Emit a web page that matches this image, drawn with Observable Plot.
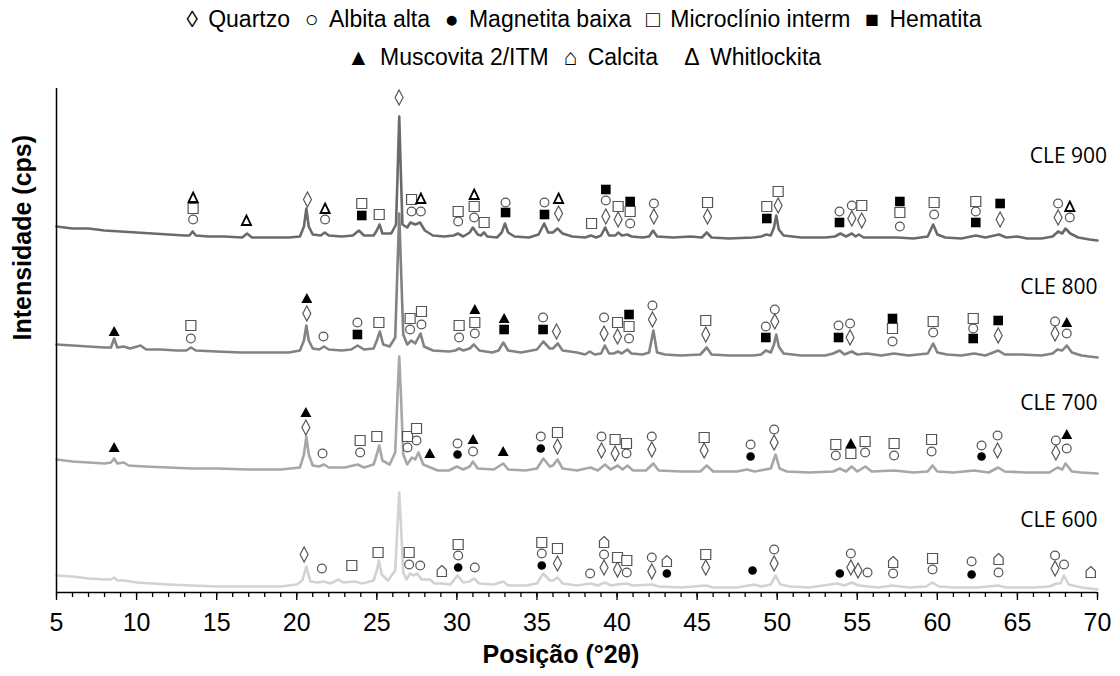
<!DOCTYPE html>
<html><head><meta charset="utf-8">
<script src="https://cdn.jsdelivr.net/npm/d3@7"></script>
<script src="https://cdn.jsdelivr.net/npm/@observablehq/plot@0.6"></script>
<style>
body{margin:0;background:#fff;width:1120px;height:676px;overflow:hidden}
#legend{height:80px;box-sizing:border-box;padding-left:48px;text-align:center;font-family:"Liberation Sans",Arial,sans-serif;font-size:23px;line-height:38px;color:#000;white-space:pre}
#legend .g{margin-right:0.45em}
#legend .it{margin:0 0.32em}
</style></head><body>
<div id="legend"></div>
<div id="chart"></div>
<script>
// ---- phases (legend) ----
const phaseKeys   = ["Q","A","G","M","H","U","C","W"];
const phaseGlyphs = ["◊","○","●","□","■","▲","⌂","Δ"];
const phaseNames  = ["Quartzo","Albita alta","Magnetita baixa","Microclínio interm","Hematita","Muscovita 2/ITM","Calcita","Whitlockita"];

// ---- samples ----
const samples = ["CLE 600","CLE 700","CLE 800","CLE 900"];
const labelX = [70, 70, 70, 70.6];
const labelLevels = [72, 189, 305, 436];

// ---- x ticks ----
const majorTicks = [5,10,15,20,25,30,35,40,45,50,55,60,65,70];

// ---- diffractograms [2θ, intensity (offset, arbitrary units)] ----
const cle900 = [[5,366],[6,364],[7,364],[8,362],[9,361],[10,360],[11,359],[12,358],[13,357],[13.3,357],[13.5,361],[13.7,357],[14.5,356],[15.5,356],[16.6,355],[16.9,359],[17.2,355],[18.5,355],[19.5,355],[20.2,356],[20.45,366],[20.6,384],[20.75,366],[21.0,358],[21.5,357],[21.75,360],[22.0,357],[22.8,356],[23.5,357],[23.88,362],[24.2,357],[24.8,357],[25.0,362],[25.17,368],[25.35,359],[25.9,359],[26.2,368],[26.3,420],[26.4,476],[26.5,420],[26.6,368],[26.9,365],[27.1,370],[27.4,368],[27.7,370],[28.0,362],[28.5,357],[29.2,356],[29.8,357],[30.06,359],[30.4,356],[30.8,360],[31.0,365],[31.3,358],[31.5,357],[31.7,360],[31.9,356],[32.5,355],[32.8,360],[33.0,369],[33.2,360],[33.6,356],[34.5,355],[35.1,358],[35.45,369],[35.7,360],[36.0,360],[36.28,364],[36.6,359],[37.2,356],[38.0,355],[38.37,357],[38.7,355],[39.0,357],[39.26,365],[39.5,357],[39.9,357],[40.07,360],[40.3,357],[40.65,358],[40.9,356],[41.6,355],[42.0,356],[42.25,362],[42.5,356],[43.5,355],[44.6,356],[45.3,355],[45.6,360],[45.9,355],[47,354],[48.5,355],[49.0,356],[49.33,358],[49.6,357],[49.8,365],[49.94,377],[50.1,363],[50.4,357],[51.5,355],[53,355],[53.6,356],[53.95,359],[54.3,356],[54.66,359],[54.9,356],[55.1,358],[55.4,355],[56.5,355],[57.5,355],[58.5,354],[59.4,356],[59.74,368],[60.0,358],[60.5,355],[61.5,354],[62.4,357],[63.0,355],[63.85,358],[64.3,355],[65.0,356],[65.6,354],[66.5,354],[67.2,356],[67.54,361],[67.8,359],[68.0,364],[68.3,359],[68.8,355],[69.5,353],[70,352]];
const cle800 = [[5,248],[6,247],[7,246],[8,245],[8.4,245],[8.6,254],[8.8,245],[9.2,246],[9.6,244],[10.25,247],[10.6,243],[11.5,243],[12.5,242],[13.1,242],[13.4,245],[13.7,242],[15,241],[16.5,240],[18,240],[19.5,240],[20.2,242],[20.45,252],[20.6,267],[20.75,252],[21.0,244],[21.4,243],[21.7,246],[22.0,243],[22.8,242],[23.4,243],[23.8,247],[24.2,243],[24.8,244],[25.0,252],[25.19,261],[25.4,248],[25.8,246],[26.15,255],[26.3,330],[26.4,379],[26.5,330],[26.65,258],[26.9,248],[27.15,252],[27.4,249],[27.73,259],[27.95,246],[28.5,242],[29.5,241],[29.9,242],[30.14,244],[30.4,242],[30.8,244],[31.06,248],[31.4,242],[32.2,240],[32.6,242],[32.9,250],[33.2,242],[34,240],[35.0,243],[35.4,251],[35.8,244],[36.0,244],[36.3,249],[36.6,242],[37.5,240],[38.0,238],[38.3,241],[38.6,238],[39.0,239],[39.24,247],[39.5,239],[39.8,239],[40.05,241],[40.3,239],[40.64,243],[40.9,239],[41.6,238],[42.0,240],[42.27,262],[42.5,240],[43,238],[44,237],[45.2,238],[45.6,245],[45.9,238],[47,237],[48.5,237],[49.0,238],[49.29,242],[49.6,240],[49.8,248],[49.94,258],[50.1,246],[50.4,239],[51.5,237],[53.0,237],[53.5,239],[53.9,242],[54.2,238],[54.65,241],[55,238],[55.6,239],[56.5,237],[57.3,239],[58.2,237],[59.4,239],[59.74,249],[60.0,240],[60.6,238],[61.5,237],[62.3,239],[63.0,237],[63.8,242],[64.2,238],[65.2,238],[66.5,237],[67.2,239],[67.5,243],[67.8,242],[68.08,247],[68.4,240],[69,237],[70,235]];
const cle700 = [[5,133],[6,131],[7,130],[8,129],[8.4,130],[8.6,134],[8.8,129],[9.2,130],[9.5,127],[10.5,126],[12,125],[13.5,124],[15,124],[17,123],[19,123],[20.2,125],[20.45,138],[20.6,156],[20.75,138],[21.0,127],[21.4,126],[21.7,128],[22.0,125],[23.0,125],[23.8,128],[24.2,125],[24.8,128],[25.0,138],[25.15,147],[25.35,132],[25.8,128],[26.15,140],[26.3,200],[26.4,236],[26.5,200],[26.65,138],[26.9,128],[27.2,135],[27.4,133],[27.6,140],[27.9,128],[28.35,125],[28.8,122],[29.5,122],[30.0,126],[30.4,123],[30.8,126],[31.0,131],[31.3,124],[32.3,123],[32.9,129],[33.2,123],[34.3,122],[35.0,124],[35.4,134],[35.8,126],[36.0,127],[36.28,133],[36.6,124],[37.5,122],[38.35,125],[38.8,122],[39.25,128],[39.6,123],[40.05,127],[40.35,123],[40.65,127],[41.0,122],[41.8,122],[42.27,129],[42.6,122],[44,121],[45.2,121],[45.6,127],[46,121],[47.5,121],[48.1,123],[48.6,121],[49.6,124],[49.9,138],[50.15,124],[50.6,121],[52,120],[53.5,121],[53.9,124],[54.3,121],[54.65,126],[55,121],[55.5,126],[55.9,121],[57.3,122],[58.5,120],[59.4,121],[59.7,127],[60.0,121],[61,120],[62.3,122],[63.2,120],[63.8,125],[64.2,121],[65.5,120],[67.0,120],[67.5,125],[67.8,123],[68.0,129],[68.4,121],[69,120],[70,119]];
const cle600 = [[5,17],[6,16],[7,14],[8,13],[8.4,13],[8.6,15],[8.8,12],[9.2,12],[10,10],[11,9],[12,8],[13.5,7],[15,6],[16.5,6],[18,6],[19,6],[20,8],[20.35,12],[20.6,26],[20.85,11],[21.3,10],[21.7,11],[22.1,9],[22.6,13],[22.9,10],[23.6,11],[24.1,9],[24.8,12],[25.0,22],[25.13,32],[25.3,18],[25.7,12],[26.15,22],[26.3,70],[26.4,100],[26.5,70],[26.65,20],[26.85,13],[27.07,19],[27.3,17],[27.53,19],[27.8,13],[28.32,13],[28.6,9],[29.1,9],[29.6,8],[30.04,17],[30.4,10],[30.8,11],[31.07,14],[31.4,9],[32.3,8],[32.89,11],[33.2,7],[34.3,7],[35.0,9],[35.4,19],[35.8,12],[36.0,12],[36.28,15],[36.6,9],[37.5,7],[38.35,9],[38.8,7],[39.25,10],[39.6,7],[40.0,8],[40.6,9],[41.0,7],[42.2,8],[42.6,6],[44,5],[45.55,7],[46,5],[47.5,5],[48.55,8],[49.0,6],[49.6,8],[49.9,17],[50.2,8],[50.8,6],[52,5],[53.75,9],[54.2,7],[54.65,10],[55.1,7],[56.3,5],[57.2,7],[58.2,5],[59.3,6],[59.7,10],[60.1,6],[61,5],[62.5,5],[63.8,7],[64.3,5],[66,5],[67.0,6],[67.45,9],[67.7,9],[67.9,17],[68.2,8],[69,5],[70,3]];

// ---- phase identification markers [2θ, phase, intensity] ----
const peaks900 = [[13.53,"W",395],[13.53,"M",384],[13.53,"A",373],[16.86,"W",372],[20.67,"Q",393],[21.77,"W",384],[21.77,"A",373],[24.06,"M",389],[24.06,"H",377],[25.15,"M",378],[26.39,"Q",495],[27.17,"M",393],[27.17,"A",381],[27.75,"W",394],[27.75,"A",381],[30.08,"M",381],[30.08,"A",371],[31.08,"W",398],[31.08,"M",386],[31.08,"A",375],[31.7,"M",370],[33.04,"A",390],[33.04,"H",380],[35.47,"A",390],[35.47,"H",378],[36.35,"W",394],[36.35,"Q",379],[38.41,"M",369],[39.3,"H",403],[39.3,"A",392],[39.3,"Q",376],[40.07,"M",386],[40.07,"Q",373],[40.82,"H",391],[40.82,"M",381],[40.82,"A",369],[42.3,"A",389],[42.3,"Q",376],[45.65,"M",390],[45.65,"Q",376],[49.35,"M",386],[49.35,"H",374],[50.06,"M",401],[50.06,"Q",387],[53.89,"A",381],[53.89,"H",370],[54.66,"A",387],[54.66,"Q",374],[55.28,"M",387],[55.28,"Q",372],[57.66,"H",391],[57.66,"M",380],[57.66,"A",366],[59.8,"M",390],[59.8,"A",378],[62.4,"M",391],[62.4,"A",381],[62.4,"H",370],[63.92,"H",389],[63.92,"Q",373],[67.54,"A",389],[67.54,"Q",375],[68.27,"W",386],[68.27,"A",375]];
const peaks800 = [[8.6,"U",261],[13.39,"M",267],[13.39,"A",254],[20.63,"U",294],[20.63,"Q",279],[21.67,"A",256],[23.79,"A",270],[23.79,"H",258],[25.13,"M",270],[27.08,"M",274],[27.08,"A",263],[27.79,"M",281],[27.79,"A",268],[30.14,"M",267],[30.14,"A",255],[31.12,"U",283],[31.12,"M",270],[31.12,"A",259],[32.95,"U",274],[32.95,"H",263],[35.38,"A",275],[35.38,"H",263],[36.22,"Q",261],[39.19,"A",275],[39.19,"Q",259],[40.03,"M",270],[40.03,"Q",256],[40.75,"H",278],[40.75,"M",266],[40.75,"A",254],[42.21,"A",287],[42.21,"Q",273],[45.54,"M",272],[45.54,"Q",258],[49.29,"A",266],[49.29,"H",255],[49.85,"A",283],[49.85,"Q",271],[53.83,"A",267],[53.83,"H",255],[54.55,"A",269],[54.55,"Q",255],[57.2,"H",274],[57.2,"M",264],[57.2,"A",251],[59.74,"M",271],[59.74,"A",260],[62.24,"M",274],[62.24,"A",264],[62.24,"H",254],[63.8,"H",272],[63.8,"Q",257],[67.35,"A",271],[67.35,"Q",259],[68.08,"U",270],[68.08,"A",259]];
const peaks700 = [[8.6,"U",145],[20.57,"U",180],[20.57,"Q",165],[21.61,"A",139],[23.96,"M",152],[23.96,"A",140],[25.0,"M",156],[26.92,"M",156],[26.92,"A",145],[27.48,"M",164],[27.48,"A",152],[28.31,"U",139],[30.04,"A",149],[30.04,"G",138],[31.01,"U",153],[31.01,"A",141],[32.89,"U",141],[35.24,"A",156],[35.24,"G",144],[36.28,"M",160],[36.28,"Q",146],[39.03,"A",156],[39.03,"Q",142],[39.88,"M",153],[39.88,"Q",139],[40.59,"M",149],[40.59,"A",139],[42.17,"A",156],[42.17,"Q",143],[45.44,"M",155],[45.44,"Q",142],[48.34,"A",148],[48.34,"G",136],[49.81,"A",163],[49.81,"Q",150],[53.66,"M",148],[53.66,"A",137],[54.6,"U",149],[54.6,"M",139],[55.49,"M",151],[55.49,"A",140],[57.3,"M",149],[57.3,"A",137],[59.64,"M",153],[59.64,"A",141],[62.76,"A",147],[62.76,"G",136],[63.76,"A",157],[63.76,"Q",142],[67.4,"A",152],[67.4,"Q",140],[68.08,"U",158],[68.08,"A",144]];
const peaks600 = [[20.46,"Q",38],[21.57,"A",24],[23.44,"M",27],[25.08,"M",40],[27.02,"M",40],[27.02,"A",28],[27.71,"A",27],[29.06,"C",21],[30.08,"M",48],[30.08,"A",37],[30.08,"G",25],[31.12,"A",25],[35.3,"M",50],[35.3,"A",39],[35.3,"G",27],[36.28,"M",44],[36.28,"Q",29],[38.32,"A",19],[39.19,"C",50],[39.19,"A",38],[39.19,"Q",25],[40.03,"M",35],[40.03,"Q",23],[40.61,"M",32],[40.61,"A",20],[42.17,"A",35],[42.17,"Q",21],[43.11,"C",31],[43.11,"G",19],[45.54,"M",38],[45.54,"Q",25],[48.46,"G",22],[49.81,"A",43],[49.81,"Q",29],[53.91,"G",19],[54.6,"A",39],[54.6,"Q",25],[55.05,"Q",22],[55.64,"A",20],[57.24,"C",30],[57.24,"A",19],[59.7,"M",34],[59.7,"A",23],[62.14,"A",31],[62.14,"G",18],[63.82,"C",33],[63.82,"A",20],[67.35,"A",37],[67.35,"Q",24],[67.91,"A",28],[69.58,"C",20]];

// ---- legend ----
const legend = document.getElementById("legend");
const item = i => `<span class="it"><span class="g">${phaseGlyphs[i]}</span>${phaseNames[i]}</span>`;
legend.innerHTML = "<div>" + [0,1,2,3,4].map(item).join("") + "</div><div>" +
  item(5) + item(6) + "<span style=\"margin-left:0.5em\"></span>" + item(7) + "</div>";

// ---- symbols ----
const shapes = {
  Q: {draw(c){c.moveTo(0,-7.5);c.lineTo(4,0);c.lineTo(0,7.5);c.lineTo(-4,0);c.closePath();}},
  A: {draw(c){c.moveTo(4.4,0);c.arc(0,0,4.4,0,2*Math.PI);c.closePath();}},
  G: {draw(c){c.moveTo(4.3,0);c.arc(0,0,4.3,0,2*Math.PI);c.closePath();}},
  M: {draw(c){c.rect(-5,-5,10,10);}},
  H: {draw(c){c.rect(-4.8,-4.8,9.6,9.6);}},
  U: {draw(c){c.moveTo(0,-5.5);c.lineTo(5.5,4.5);c.lineTo(-5.5,4.5);c.closePath();}},
  C: {draw(c){c.moveTo(0,-6);c.lineTo(4.6,-1.8);c.lineTo(4.6,5);c.lineTo(-4.6,5);c.lineTo(-4.6,-1.8);c.closePath();}},
  W: {draw(c){c.moveTo(0,-5);c.lineTo(4.6,4.5);c.lineTo(-4.6,4.5);c.closePath();}}
};
const hollow = {fill: "white", stroke: "#555", strokeWidth: 1.2};
const solid = {fill: "black", stroke: "none"};
const styles = {Q: hollow, A: hollow, G: solid, M: hollow, H: solid, U: solid, C: hollow, W: {fill: "none", stroke: "black", strokeWidth: 1.8}};

const traces = [cle600, cle700, cle800, cle900];
const traceColors = ["#d2d2d2", "#a7a7a7", "#828282", "#6a6a6a"];
const markers = [peaks600, peaks700, peaks800, peaks900].flatMap(arr => arr.map(([x,k,y]) => ({x, k, y})));

const marks = [];
traces.forEach((t, i) => {
  marks.push(Plot.line(t, {x: d => d[0], y: d => d[1], stroke: traceColors[i], strokeWidth: 2.6, curve: "linear"}));
});
phaseKeys.forEach(k => {
  marks.push(Plot.dot(markers.filter(d => d.k === k), {x: "x", y: "y", r: 1, symbol: shapes[k], ...styles[k]}));
});
marks.push(Plot.text(samples, {x: (d, i) => labelX[i], y: (d, i) => labelLevels[i], text: d => d, textAnchor: "end", fontSize: 21, fontFamily: "Open Sans", fill: "black"}));
marks.push(Plot.ruleY([0], {stroke: "black", strokeWidth: 1.5}));
marks.push(Plot.ruleX([5], {stroke: "black", strokeWidth: 1.5}));
marks.push(Plot.axisX({ticks: d3.range(5, 71, 1), tickSize: 5, tickFormat: () => "", label: null, strokeWidth: 1.3}));
marks.push(Plot.axisX({ticks: majorTicks, tickSize: 8, tickPadding: 13, fontSize: 25, label: null, strokeWidth: 1.3}));
marks.push(Plot.text(["Posição (°2θ)"], {frameAnchor: "bottom", dy: 70, dx: -16, fontSize: 25, fontWeight: "bold", fill: "black"}));
marks.push(Plot.text(["Intensidade (cps)"], {frameAnchor: "left", rotate: -90, dx: -34, fontSize: 25, fontWeight: "bold", fill: "black"}));

const chart = Plot.plot({
  width: 1120, height: 596,
  marginLeft: 56, marginRight: 23, marginTop: 8, marginBottom: 84,
  x: {domain: [5, 70], axis: null},
  y: {domain: [0, 504], axis: null},
  style: {fontFamily: "'Liberation Sans', Arial, sans-serif", background: "white", color: "black", overflow: "visible"},
  marks
});
document.getElementById("chart").appendChild(chart);
</script>
</body></html>
